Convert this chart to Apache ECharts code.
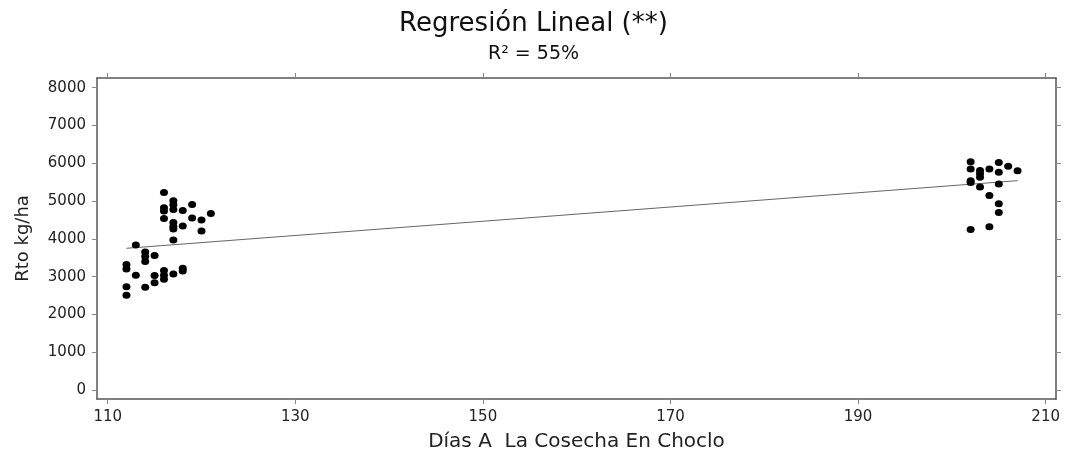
<!DOCTYPE html>
<html>
<head>
<meta charset="utf-8">
<script src="https://cdn.jsdelivr.net/npm/echarts@6/dist/echarts.min.js"></script>
<style>
html,body{margin:0;padding:0;background:#fff;}
#chart{width:1067px;height:454px;}
</style>
</head>
<body>
<div id="chart"></div>
<script>
// Days to harvest (x) and yield kg/ha (y)
const dias = [
  112,112,112,112,
  113,113,
  114,114,114,114,
  115,115,115,
  116,116,116,116,116,116,116,
  117,117,117,117,117,117,117,117,
  118,118,118,118,
  119,119,
  120,120,
  121,
  202,202,202,202,202,
  203,203,203,203,
  204,204,204,
  205,205,205,205,205,
  206,
  207
];
const rto = [
  2510,2730,3200,3320,
  3840,3040,
  3650,3530,3400,2720,
  3560,3030,2840,
  5230,4820,4740,4540,3160,3040,2930,
  5010,4900,4780,4430,4330,4260,3970,3070,
  4750,4340,3220,3150,
  4910,4550,
  4500,4210,
  4670,
  6040,5850,5540,5490,4250,
  5810,5720,5630,5370,
  5850,5150,4320,
  6020,5760,5450,4930,4700,
  5920,
  5800
];
// Regression line end points (x, y)
const regX = [112, 207];
const regY = [3750, 5540];
const xTicks = [110,130,150,170,190,210];
const yTicks = [0,1000,2000,3000,4000,5000,6000,7000,8000];

const points = dias.map((d,i)=>[d, rto[i]]);
const regLine = regX.map((d,i)=>[d, regY[i]]);

const FONT = 'DejaVu Sans';
const chart = echarts.init(document.getElementById('chart'));
const frame = {show:true, onZero:false, lineStyle:{color:'#555', width:1.5}};
const tick = (vals)=>({show:true, inside:false, length:5, customValues:vals, lineStyle:{color:'#888', width:1}});
const plain = (v)=>String(v);

chart.setOption({
  animation:false,
  backgroundColor:'#fff',
  title:[
    {text:'Regresión Lineal (**)', left:'center', top:11, padding:0,
     textStyle:{fontFamily:FONT, fontSize:26, fontWeight:'normal', color:'#111'}},
    {text:'R² = 55%', left:'center', top:45, padding:0,
     textStyle:{fontFamily:FONT, fontSize:19, fontWeight:'normal', color:'#111'}}
  ],
  grid:{left:97, right:11, top:78, bottom:55, containLabel:false, outerBoundsMode:'none'},
  xAxis:[
    {type:'value', position:'bottom', min:108.86, max:211.1,
     axisLine:frame, axisTick:tick(xTicks), splitLine:{show:false},
     axisLabel:{customValues:xTicks, formatter:plain, fontFamily:FONT, fontSize:15, color:'#222', margin:11},
     name:'Días A  La Cosecha En Choclo', nameLocation:'middle', nameGap:33,
     nameTextStyle:{fontFamily:FONT, fontSize:20, color:'#222'}},
    {type:'value', position:'top', min:108.86, max:211.1,
     axisLine:frame, axisTick:tick(xTicks), splitLine:{show:false},
     axisLabel:{show:false}}
  ],
  yAxis:[
    {type:'value', position:'left', min:-238, max:8257,
     axisLine:frame, axisTick:tick(yTicks), splitLine:{show:false},
     axisLabel:{customValues:yTicks, formatter:plain, fontFamily:FONT, fontSize:15, color:'#222', margin:11},
     name:'Rto kg/ha', nameLocation:'middle', nameGap:65, nameRotate:90,
     nameTextStyle:{fontFamily:FONT, fontSize:18, color:'#222'}},
    {type:'value', position:'right', min:-238, max:8257,
     axisLine:frame, axisTick:tick(yTicks), splitLine:{show:false},
     axisLabel:{show:false}}
  ],
  series:[
    {type:'line', data:regLine, showSymbol:false, symbol:'none', z:2,
     lineStyle:{color:'#666', width:1}},
    {type:'scatter', data:points, symbol:'circle', symbolSize:[8,7], z:3,
     itemStyle:{color:'#000', opacity:1}}
  ]
});
</script>
</body>
</html>
